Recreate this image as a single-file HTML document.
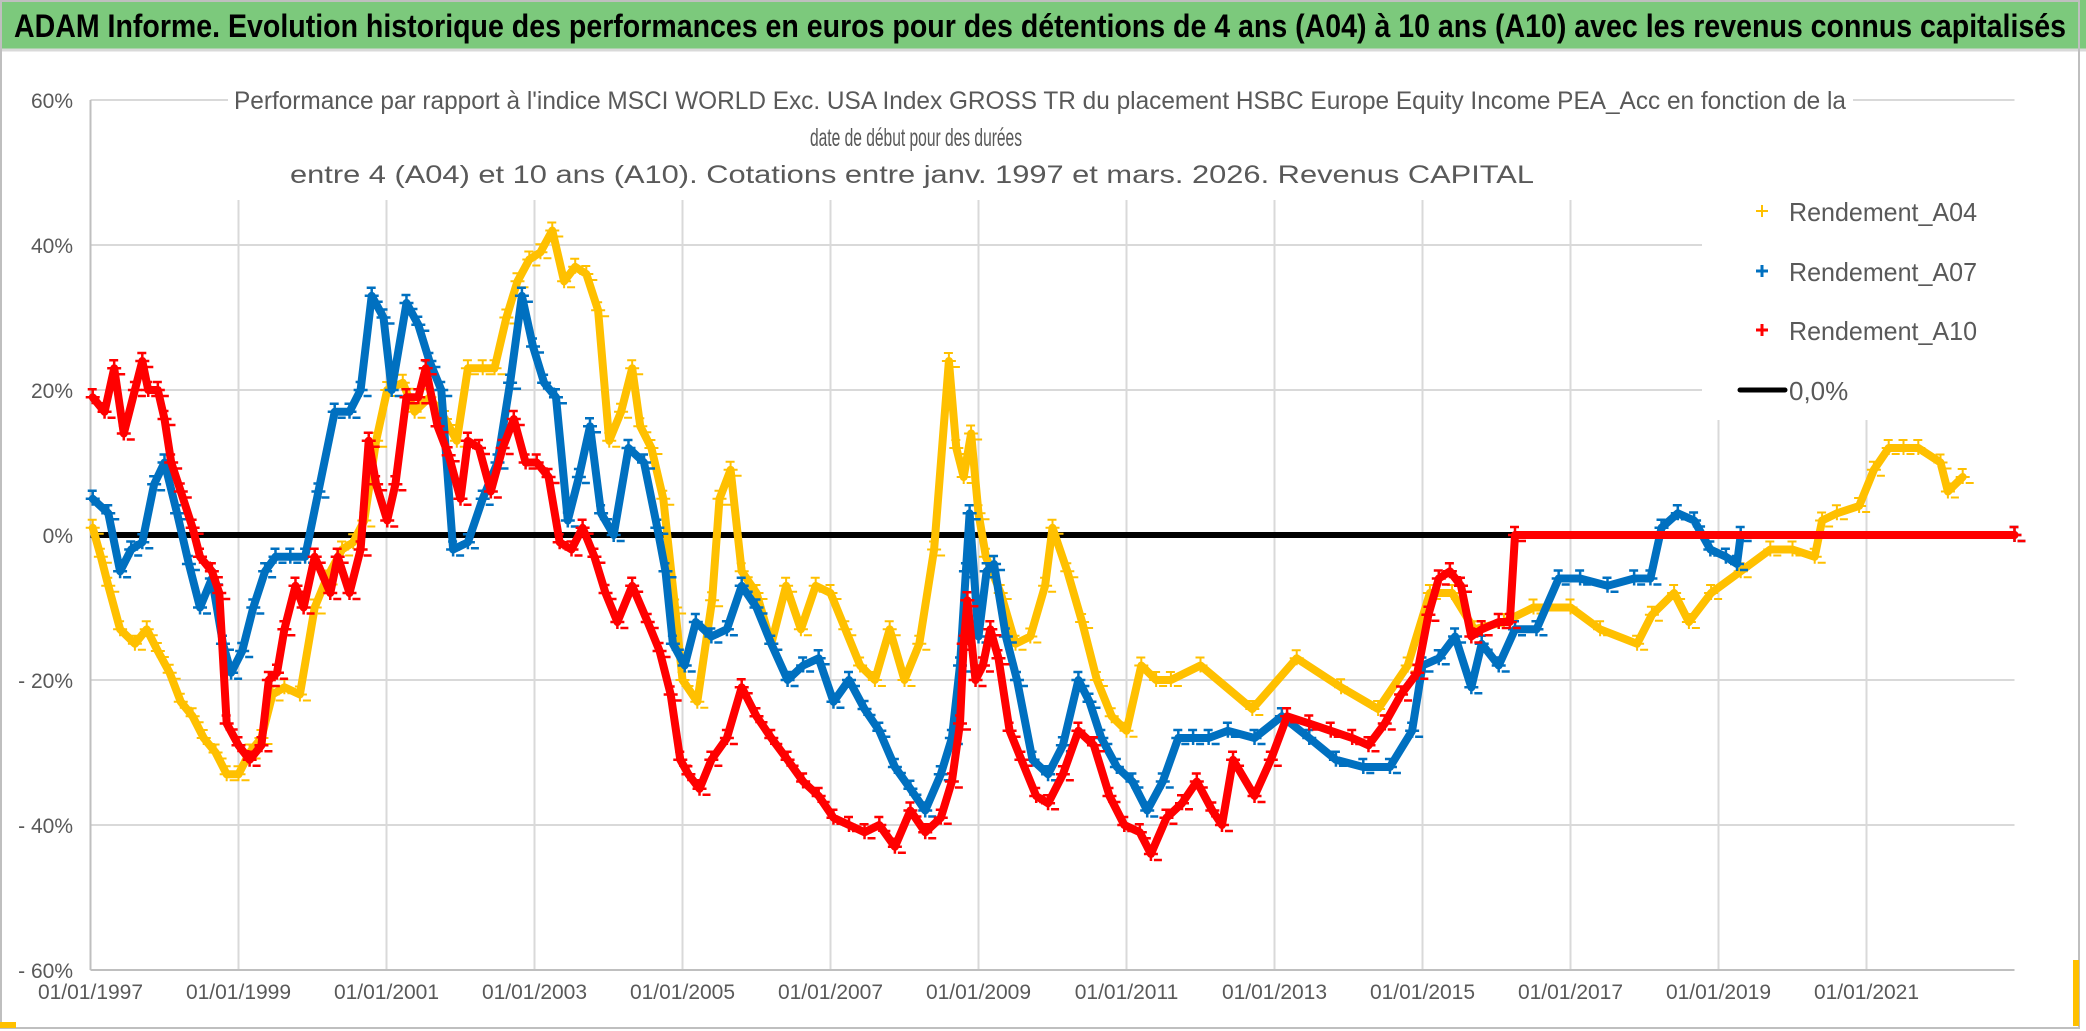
<!DOCTYPE html>
<html><head><meta charset="utf-8"><style>
html,body{margin:0;padding:0;background:#fff;}
svg{display:block;}
text{font-family:"Liberation Sans Narrow","Liberation Sans",sans-serif;}
</style></head><body>
<svg id="chart" width="2086" height="1031" viewBox="0 0 2086 1031" xmlns="http://www.w3.org/2000/svg">
<rect x="0" y="0" width="2086" height="1031" fill="#fff"/>
<rect x="0" y="0" width="2086" height="49" fill="#7cc97c"/>
<line x1="0" y1="50" x2="2086" y2="50" stroke="#d9d9d9" stroke-width="3"/>
<text x="14" y="37" font-size="32" font-weight="bold" fill="#000" textLength="2052" lengthAdjust="spacingAndGlyphs">ADAM Informe. Evolution historique des performances en euros pour des détentions de 4 ans (A04) à 10 ans (A10) avec les revenus connus capitalisés</text>
<g id="grid"></g>
<rect x="228" y="78" width="1625" height="120" fill="#fff"/>
<rect x="1702" y="180" width="320" height="240" fill="#fff"/>
<g fill="#595959" font-size="25" text-anchor="middle">
<text x="1040" y="109" textLength="1612" lengthAdjust="spacingAndGlyphs">Performance par rapport à l'indice MSCI WORLD Exc. USA Index GROSS TR  du placement HSBC Europe Equity Income PEA_Acc en fonction de la</text>
<text x="916" y="146" textLength="212" lengthAdjust="spacingAndGlyphs">date de début pour des durées</text>
<text x="912" y="183" textLength="1244" lengthAdjust="spacingAndGlyphs">entre 4 (A04) et 10 ans (A10). Cotations entre janv. 1997 et mars. 2026. Revenus CAPITAL</text>
</g>
<g id="axes"></g>
<g id="series"></g>
<g id="legend">
<g><path d="M1756 211h12M1762 205v12" stroke="#ffc000" stroke-width="2"/><text x="1789" y="221" font-size="26" fill="#595959" textLength="188" lengthAdjust="spacingAndGlyphs">Rendement_A04</text></g>
<g><path d="M1756 271h12M1762 265v12" stroke="#0070c0" stroke-width="3"/><text x="1789" y="281" font-size="26" fill="#595959" textLength="188" lengthAdjust="spacingAndGlyphs">Rendement_A07</text></g>
<g><path d="M1756 330h12M1762 324v12" stroke="#ff0000" stroke-width="3"/><text x="1789" y="340" font-size="26" fill="#595959" textLength="188" lengthAdjust="spacingAndGlyphs">Rendement_A10</text></g>
<g><line x1="1740" y1="390" x2="1785" y2="390" stroke="#000" stroke-width="5" stroke-linecap="round"/><text x="1789" y="400" font-size="26" fill="#595959">0,0%</text></g>
</g>
<rect x="1" y="1" width="2078" height="1027" fill="none" stroke="#bfbfbf" stroke-width="2"/>
<rect x="0" y="1022" width="16" height="6" fill="#ffc000"/>
<rect x="2073" y="960" width="6" height="66" fill="#ffc000"/>
</svg>
<script>
const yTicks = [60, 40, 20, 0, -20, -40, -60];
const yTickLabels = ["60%", "40%", "20%", "0%", "- 20%", "- 40%", "- 60%"];
const xTickYears = [1997, 1999, 2001, 2003, 2005, 2007, 2009, 2011, 2013, 2015, 2017, 2019, 2021];
const xTickLabels = ["01/01/1997","01/01/1999","01/01/2001","01/01/2003","01/01/2005","01/01/2007","01/01/2009","01/01/2011","01/01/2013","01/01/2015","01/01/2017","01/01/2019","01/01/2021"];
const zeroRange = [1997, 2023];

const a04Dates = [1997.03,1997.14,1997.24,1997.4,1997.6,1997.76,1997.91,1998.07,1998.22,1998.38,1998.53,1998.69,1998.84,1999.0,1999.15,1999.31,1999.46,1999.62,1999.83,2000.03,2000.19,2000.4,2000.55,2000.7,2000.86,2001.01,2001.22,2001.38,2001.58,2001.79,2001.95,2002.1,2002.3,2002.46,2002.62,2002.77,2002.93,2003.08,2003.24,2003.4,2003.55,2003.7,2003.86,2004.01,2004.17,2004.32,2004.43,2004.58,2004.74,2004.9,2005.0,2005.2,2005.4,2005.5,2005.65,2005.8,2006.0,2006.2,2006.4,2006.6,2006.8,2007.0,2007.2,2007.4,2007.6,2007.8,2008.0,2008.2,2008.4,2008.6,2008.7,2008.8,2008.9,2009.0,2009.1,2009.3,2009.5,2009.7,2009.9,2010.0,2010.2,2010.4,2010.6,2010.8,2011.0,2011.2,2011.4,2011.6,2012.0,2012.7,2013.3,2013.9,2014.4,2014.8,2015.1,2015.4,2015.7,2016.1,2016.5,2017.0,2017.4,2017.9,2018.1,2018.4,2018.6,2018.9,2019.3,2019.7,2020.0,2020.3,2020.4,2020.6,2020.9,2021.1,2021.3,2021.5,2021.7,2022.0,2022.1,2022.3];
const a04Values = [1,-3,-7,-13,-15,-13,-16,-19,-23,-25,-28,-30,-33,-33,-30,-28,-22,-21,-22,-10,-6,-2,-1,2,13,20,21,17,19,16,13,23,23,23,30,35,38,39,42,35,37,36,31,13,17,23,15,12,5,-10,-20,-23,-9,5,9,-5,-8,-15,-7,-13,-7,-8,-13,-18,-20,-13,-20,-15,-2,24,12,8,14,3,-3,-8,-15,-14,-7,1,-5,-12,-20,-25,-27,-18,-20,-20,-18,-24,-17,-21,-24,-18,-8,-8,-13,-12,-10,-10,-13,-15,-11,-8,-12,-8,-5,-2,-2,-3,2,3,4,9,12,12,12,10,6,8];

const a07Dates = [1997.03,1997.24,1997.4,1997.55,1997.7,1997.86,1998.0,1998.17,1998.33,1998.48,1998.64,1998.79,1998.9,1999.05,1999.2,1999.36,1999.5,1999.7,1999.9,2000.08,2000.3,2000.5,2000.65,2000.8,2000.96,2001.07,2001.27,2001.43,2001.58,2001.74,2001.9,2002.1,2002.3,2002.5,2002.67,2002.83,2002.98,2003.13,2003.29,2003.45,2003.6,2003.75,2003.9,2004.07,2004.27,2004.48,2004.66,2004.77,2004.87,2005.03,2005.18,2005.39,2005.6,2005.8,2006.0,2006.2,2006.42,2006.63,2006.84,2007.04,2007.25,2007.46,2007.66,2007.87,2008.08,2008.28,2008.49,2008.64,2008.75,2008.83,2008.88,2009.0,2009.11,2009.21,2009.37,2009.52,2009.73,2009.94,2010.14,2010.35,2010.5,2010.66,2010.87,2011.08,2011.28,2011.49,2011.7,2011.9,2012.11,2012.37,2012.73,2013.1,2013.47,2013.83,2014.2,2014.56,2014.86,2015.0,2015.22,2015.44,2015.66,2015.8,2016.03,2016.25,2016.54,2016.84,2017.13,2017.5,2017.86,2018.08,2018.23,2018.45,2018.67,2018.89,2019.1,2019.25,2019.3,2023.0];
const a07Values = [5,3,-5,-2,-1,7,10,3,-4,-10,-6,-15,-19,-16,-10,-5,-3,-3,-3,6,17,17,20,33,30,20,32,29,24,20,-2,-1,5,10,21,33,26,21,19,2,8,15,3,0,12,10,1,-5,-15,-18,-12,-14,-13,-7,-10,-15,-20,-18,-17,-23,-20,-24,-27,-32,-35,-38,-33,-28,-18,-5,3,-14,-5,-4,-14,-20,-31,-33,-29,-20,-23,-28,-32,-34,-38,-34,-28,-28,-28,-27,-28,-25,-28,-31,-32,-32,-27,-18,-17,-14,-21,-15,-18,-13,-13,-6,-6,-7,-6,-6,1,3,2,-2,-3,-4,0,0];

const a10Dates = [1997.03,1997.19,1997.32,1997.45,1997.6,1997.7,1997.78,1997.91,1998.0,1998.09,1998.22,1998.38,1998.48,1998.64,1998.74,1998.84,1999.0,1999.15,1999.31,1999.41,1999.52,1999.62,1999.77,1999.88,2000.03,2000.24,2000.34,2000.5,2000.65,2000.76,2000.86,2001.01,2001.12,2001.27,2001.43,2001.53,2001.69,2001.84,2002.0,2002.1,2002.25,2002.41,2002.57,2002.72,2002.88,2003.03,2003.19,2003.34,2003.5,2003.65,2003.81,2003.96,2004.12,2004.32,2004.53,2004.69,2004.84,2004.97,2005.08,2005.23,2005.39,2005.6,2005.8,2006.0,2006.2,2006.42,2006.63,2006.84,2007.04,2007.25,2007.46,2007.66,2007.87,2008.08,2008.28,2008.49,2008.64,2008.75,2008.8,2008.85,2008.96,2009.06,2009.16,2009.27,2009.42,2009.58,2009.78,2009.94,2010.14,2010.35,2010.56,2010.77,2010.97,2011.18,2011.33,2011.54,2011.75,2011.95,2012.16,2012.29,2012.44,2012.73,2012.95,2013.17,2013.47,2013.76,2014.05,2014.27,2014.49,2014.71,2014.93,2015.08,2015.22,2015.37,2015.52,2015.66,2015.8,2016.03,2016.18,2016.25,2023.0];
const a10Values = [19,17,23,14,20,24,20,20,16,10,6,1,-3,-5,-8,-26,-29,-31,-29,-20,-19,-13,-7,-10,-3,-8,-3,-8,-2,13,7,2,7,19,19,23,15,11,5,13,12,6,12,16,10,10,8,-1,-2,1,-3,-8,-12,-7,-12,-16,-22,-31,-33,-35,-31,-28,-21,-25,-28,-31,-34,-36,-39,-40,-41,-40,-43,-38,-41,-39,-34,-26,-15,-9,-20,-18,-13,-17,-27,-31,-36,-37,-33,-27,-29,-36,-40,-41,-44,-39,-37,-34,-38,-40,-31,-36,-31,-25,-26,-27,-28,-29,-26,-22,-19,-11,-6,-5,-7,-14,-13,-12,-12,0,0];

const NS = "http://www.w3.org/2000/svg";
const X0 = 90.5, PX_PER_YEAR = 74, Y0 = 535, PX_PER_PCT = 7.25;
function xScale(yr){ return X0 + (yr - 1997) * PX_PER_YEAR; }
function yScale(p){ return Y0 - p * PX_PER_PCT; }
function mk(tag, attrs, parent){ const e = document.createElementNS(NS, tag); for (const k in attrs) e.setAttribute(k, attrs[k]); parent.appendChild(e); return e; }

const grid = document.getElementById('grid');
const axes = document.getElementById('axes');
const xLeft = xScale(1997), xRight = xScale(2023), yTop = yScale(60), yBot = yScale(-60);
yTicks.forEach((t, i) => {
  const l = mk('line', {x1: xLeft, x2: xRight, y1: yScale(t), y2: yScale(t), stroke: '#d9d9d9', 'stroke-width': 2}, grid);
  
  
  const tx = mk('text', {x: 73, y: yScale(t) + 8, 'font-size': 21, fill: '#595959', 'text-anchor': 'end'}, axes);
  tx.textContent = yTickLabels[i];
  
  
});
xTickYears.forEach((yr, i) => {
  const l = mk('line', {x1: xScale(yr), x2: xScale(yr), y1: 200, y2: yBot, stroke: '#d9d9d9', 'stroke-width': 2}, grid);
  
  
  const tx = mk('text', {x: xScale(yr), y: 999, 'font-size': 21, fill: '#595959', 'text-anchor': 'middle'}, axes);
  tx.textContent = xTickLabels[i];
  
  
});
const axL = mk('line', {x1: xLeft, x2: xLeft, y1: yTop, y2: yBot, stroke: '#bfbfbf', 'stroke-width': 2}, grid);


const axB = mk('line', {x1: xLeft, x2: xRight, y1: yBot, y2: yBot, stroke: '#bfbfbf', 'stroke-width': 2}, grid);



const series = document.getElementById('series');
const zl = mk('line', {x1: xScale(zeroRange[0]), x2: xScale(zeroRange[1]), y1: yScale(0), y2: yScale(0), stroke: '#000', 'stroke-width': 6}, series);



function drawSeries(dates, vals, color, name, lw, mw){
  const g = mk('g', {}, series);
  
  
  const pts = dates.map((d, i) => xScale(d).toFixed(1) + ',' + yScale(vals[i]).toFixed(1)).join(' ');
  const pl = mk('polyline', {points: pts, fill: 'none', stroke: color, 'stroke-width': lw, 'stroke-linejoin': 'round', 'stroke-linecap': 'round'}, g);
  
  
  dates.forEach((d, i) => {
    const x = xScale(d), y = yScale(vals[i]);
    const p = mk('path', {d: `M${x-7} ${y}h14M${x} ${y-7}v14M${x-5} ${y-8}h9M${x+3} ${y+6}h8`, stroke: color, 'stroke-width': mw}, g);
    
    
  });
}
drawSeries(a04Dates, a04Values, '#ffc000', 'series-a04', 8, 2);
drawSeries(a07Dates, a07Values, '#0070c0', 'series-a07', 8, 2.5);
drawSeries(a10Dates, a10Values, '#ff0000', 'series-a10', 8, 2.5);
</script>
</body></html>
